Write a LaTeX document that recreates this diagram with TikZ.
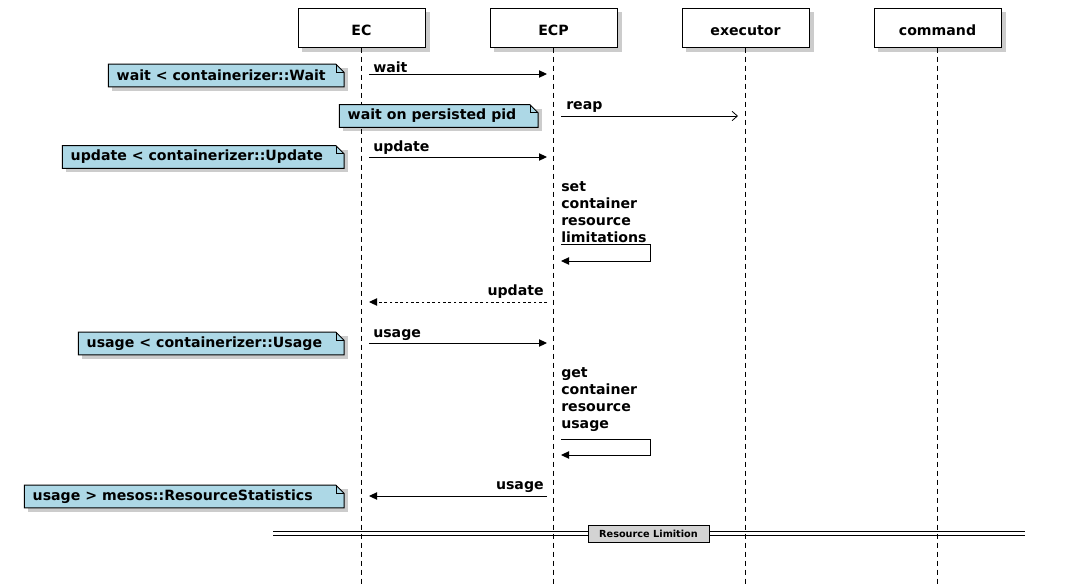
\documentclass[tikz,border=0pt]{standalone}
\usepackage{fontspec}
\setmainfont{DejaVu Sans}
\usetikzlibrary{arrows.meta,calc}
\pgfdeclarelayer{bg}
\pgfsetlayers{bg,main}
\definecolor{notecol}{HTML}{ADD8E6}
\definecolor{divcol}{HTML}{D3D3D3}
\tikzset{
  lbl/.style={font=\bfseries\fontsize{10.6}{12.75}\selectfont, inner sep=0pt},
  part/.style={draw, line width=0.75pt, fill=white, minimum width=95.25pt, minimum height=29.25pt, inner sep=0pt, text height=11.5pt, text depth=0pt, font=\bfseries\fontsize{10.6}{12}\selectfont},
  life/.style={line width=0.75pt, dash pattern=on 3.75pt off 3pt},
  msg/.style={line width=0.75pt, -{Triangle[length=6pt,width=5.5pt]}},
  openmsg/.style={line width=0.6pt, -{Straight Barb[length=4pt,width=7pt]}},
  retmsg/.style={line width=0.75pt, dash pattern=on 2pt off 2pt, -{Triangle[length=6pt,width=5.5pt]}},
  notetxt/.style={font=\bfseries\fontsize{10.6}{12}\selectfont, inner xsep=6pt, inner ysep=0pt, minimum height=16.5pt},
  notebg/.style={fill=notecol, draw, line width=0.75pt},
  shadowfill/.style={fill=black, opacity=0.2},
  divlbl/.style={draw, line width=0.75pt, fill=divcol, minimum width=90.75pt, minimum height=12.75pt, inner sep=0pt, font=\bfseries\fontsize{7.3}{8}\selectfont},
}
\newcommand\notebox[5]{%
  \node[notetxt, anchor=east] (#1) at (#2,#3) {\makebox[#4][l]{#5}};
  \begin{pgfonlayer}{bg}
    \fill[shadowfill] ([shift={(4,4)}]#1.south west) rectangle ([shift={(4,4)}]#1.north east);
    \filldraw[notebg] (#1.south west) -- (#1.north west) -- ([xshift=-6pt]#1.north east) -- ([yshift=-6pt]#1.north east) -- (#1.south east) -- cycle;
  \end{pgfonlayer}
  \draw[line width=0.6pt] ([xshift=-6pt]#1.north east) |- ([yshift=-6pt]#1.north east);
}
\newcommand\partbox[3]{%
  \node[part] (#1) at (#2,27.5) {#3};
  \coordinate (#1-end) at (#2,586);
  \begin{pgfonlayer}{bg}
    \fill[shadowfill] ([shift={(4,4)}]#1.south west) rectangle ([shift={(4,4)}]#1.north east);
    \draw[life] (#1.south) -- (#1-end);
  \end{pgfonlayer}
}
\begin{document}
\begin{tikzpicture}[x=0.75pt,y=-0.75pt]
\useasboundingbox (0,0) rectangle (1065,586);
\begin{pgfonlayer}{bg}
\fill[white] (0,0) rectangle (1065,586);
\end{pgfonlayer}

% participants
\partbox{ec}{361.5}{EC}
\partbox{ecp}{553.5}{ECP}
\partbox{exe}{745.5}{executor}
\partbox{cmd}{937.5}{command}

% message endpoints
\coordinate (m1s) at (369,74);  \coordinate (m1e) at (547,74);
\coordinate (m2s) at (561,116); \coordinate (m2e) at (738,116);
\coordinate (m3s) at (369,157); \coordinate (m3e) at (547,157);
\coordinate (s1a) at (561,244); \coordinate (s1b) at (650,261); \coordinate (s1c) at (561,261);
\coordinate (m4s) at (547,302); \coordinate (m4e) at (369,302);
\coordinate (m5s) at (369,343); \coordinate (m5e) at (547,343);
\coordinate (s2a) at (561,439); \coordinate (s2b) at (650,455); \coordinate (s2c) at (561,455);
\coordinate (m6s) at (547,496); \coordinate (m6e) at (369,496);

% messages
\draw[msg] (m1s) -- (m1e);
\node[lbl, anchor=base west] (l1) at (373,72) {wait};
\draw[openmsg] (m2s) -- (m2e);
\node[lbl, anchor=base west] (l2) at (566,109) {reap};
\draw[msg] (m3s) -- (m3e);
\node[lbl, anchor=base west] (l3) at (373,151) {update};
\draw[msg] (s1a) -| (s1b) -- (s1c);
\node[lbl, anchor=north west, align=left] (l4) at (561,181) {set\\container\\resource\\limitations};
\draw[retmsg] (m4s) -- (m4e);
\node[lbl, anchor=base east] (l5) at (544,295) {update};
\draw[msg] (m5s) -- (m5e);
\node[lbl, anchor=base west] (l6) at (373,337) {usage};
\draw[msg] (s2a) -| (s2b) -- (s2c);
\node[lbl, anchor=north west, align=left] (l7) at (561,367) {get\\container\\resource\\usage};
\draw[msg] (m6s) -- (m6e);
\node[lbl, anchor=base east] (l8) at (544,489) {usage};

% notes
\notebox{n1}{344}{75.5}{164.25pt}{wait < containerizer::Wait}
\notebox{n2}{538}{116}{136.5pt}{wait on persisted pid}
\notebox{n3}{344}{157}{198.75pt}{update < containerizer::Update}
\notebox{n4}{344}{343.5}{186.75pt}{usage < containerizer::Usage}
\notebox{n5}{344}{496.5}{227.25pt}{usage > mesos::ResourceStatistics}

% divider
\coordinate (dl) at (273,533.5);
\coordinate (dr) at (1025,533.5);
\draw[line width=0.75pt] ([yshift=1.15pt]dl) -- ([yshift=1.15pt]dr);
\draw[line width=0.75pt] ([yshift=-1.15pt]dl) -- ([yshift=-1.15pt]dr);
\node[divlbl] (div) at (648.5,533.5) {Resource Limition};
\end{tikzpicture}
\end{document}
